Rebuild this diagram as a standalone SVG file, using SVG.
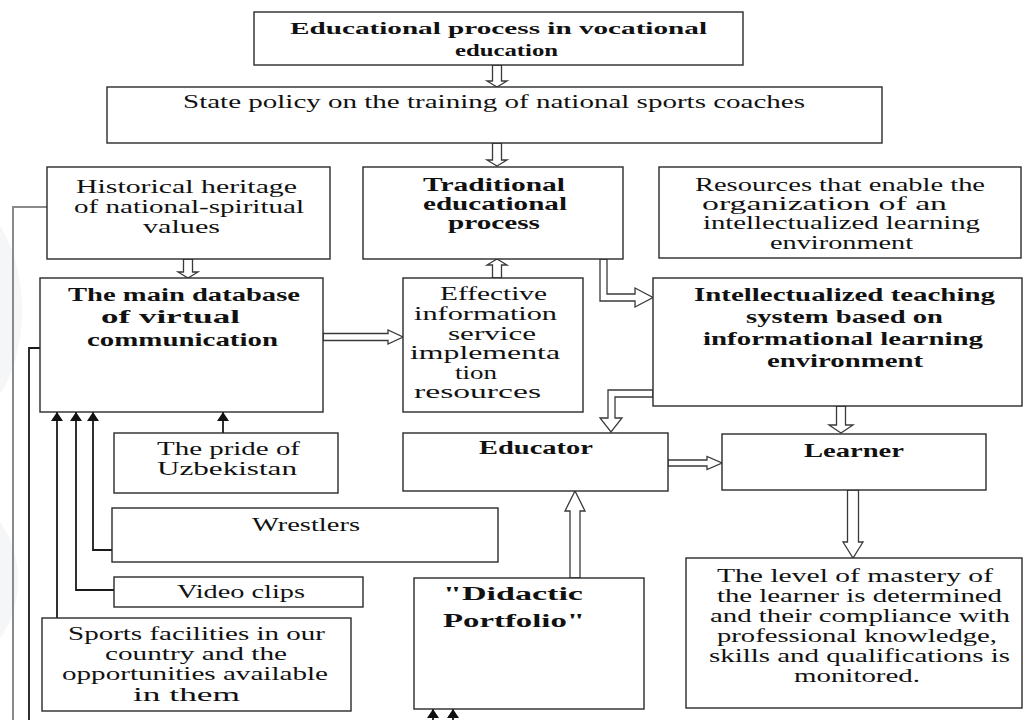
<svg xmlns="http://www.w3.org/2000/svg" width="1029" height="720" viewBox="0 0 1029 720">
<style>
.box{fill:#fff;stroke:#2a2a2a;stroke-width:1.4}
.t{font-family:"Liberation Serif","Times New Roman",serif;font-size:19px;fill:#111}
.s{font-size:18px}
.b{font-weight:bold;font-size:18px}
.ha{fill:#fff;stroke:#3a3a3a;stroke-width:1.3;stroke-linejoin:miter}
.ln{fill:none;stroke:#1a1a1a;stroke-width:1.8}
.lg{fill:none;stroke:#8a8a8a;stroke-width:2}
</style>
<defs>
<marker id="ah" viewBox="0 0 10 10" refX="10" refY="5" markerWidth="9" markerHeight="12" markerUnits="userSpaceOnUse" orient="auto" preserveAspectRatio="none">
<path d="M0,0 L10,5 L0,10 Z" fill="#111"/>
</marker>
</defs>
<rect width="1029" height="720" fill="#fff"/>
<ellipse cx="-40" cy="310" rx="62" ry="110" fill="#f5f6f8"/>
<ellipse cx="-40" cy="580" rx="58" ry="80" fill="#f5f6f8"/>

<g id="connectors">
<path class="lg" d="M47,207 H13 V720"/>
<path class="ln" d="M40,348 H29 V720"/>
<path class="ln" d="M223,433 V412" marker-end="url(#ah)"/>
<path class="ln" d="M112,550 H93 V412" marker-end="url(#ah)"/>
<path class="ln" d="M114,590 H76 V412" marker-end="url(#ah)"/>
<path class="ln" d="M57,618 V412" marker-end="url(#ah)"/>
<path class="ln" d="M433,728 V709" marker-end="url(#ah)"/>
<path class="ln" d="M453,728 V709" marker-end="url(#ah)"/>
<path class="ha" d="M492.5,65 V81 H487 L497,87 L507,81 H501.5 V65 Z"/>
<path class="ha" d="M492.5,143 V160 H487 L497,166 L507,160 H501.5 V143 Z"/>
<path class="ha" d="M183.5,259 V272 H178 L188,278 L198,272 H192.5 V259 Z"/>
<path class="ha" d="M492.5,278 V265 H487 L497,259 L507,265 H501.5 V278 Z"/>
<path class="ha" d="M323,333.5 H388 V330 L403,337 L388,344 V340.5 H323 Z"/>
<path class="ha" d="M600,259 V301 H635 V307 L653,297.5 L635,288 V294 H607 V259 Z"/>
<path class="ha" d="M653,390 H608 V418 H600 L611,432 L622,418 H615 V397 H653 Z"/>
<path class="ha" d="M836.5,406 V425 H829 L841,433 L853,425 H845.5 V406 Z"/>
<path class="ha" d="M847.5,490 V542 H843 L853,558 L863,542 H858.5 V490 Z"/>
<path class="ha" d="M570,578 V511 H565 L575,491 L585,511 H580 V578 Z"/>
<path class="ha" d="M668,460 H707 V456.5 L722,463 L707,469.5 V466 H668 Z"/>
</g>

<g id="n-title">
<rect class="box" x="254" y="12" width="489" height="53"/>
<text class="t b" style="font-size:17px" x="290" y="34" textLength="417" lengthAdjust="spacingAndGlyphs">Educational process in vocational</text>
<text class="t b" style="font-size:17px" x="455" y="56" textLength="103" lengthAdjust="spacingAndGlyphs">education</text>
</g>

<g id="n-state">
<rect class="box" x="107" y="87" width="775" height="56"/>
<text class="t" x="183" y="108" textLength="622" lengthAdjust="spacingAndGlyphs">State policy on the training of national sports coaches</text>
</g>

<g id="n-historical">
<rect class="box" x="47" y="167" width="283" height="92"/>
<text class="t" x="76" y="193" textLength="221" lengthAdjust="spacingAndGlyphs">Historical heritage</text>
<text class="t" x="74" y="213" textLength="230" lengthAdjust="spacingAndGlyphs">of national-spiritual</text>
<text class="t" x="143" y="233" textLength="77" lengthAdjust="spacingAndGlyphs">values</text>
</g>

<g id="n-traditional">
<rect class="box" x="363" y="167" width="260" height="92"/>
<text class="t b" x="423" y="191" textLength="142" lengthAdjust="spacingAndGlyphs">Traditional</text>
<text class="t b" x="423" y="210" textLength="144" lengthAdjust="spacingAndGlyphs">educational</text>
<text class="t b" x="448" y="229" textLength="92" lengthAdjust="spacingAndGlyphs">process</text>
</g>

<g id="n-resources">
<rect class="box" x="659" y="167" width="362" height="91"/>
<text class="t s" x="695" y="191" textLength="290" lengthAdjust="spacingAndGlyphs">Resources that enable the</text>
<text class="t s" x="702" y="210" textLength="245" lengthAdjust="spacingAndGlyphs">organization of an</text>
<text class="t s" x="703" y="229" textLength="277" lengthAdjust="spacingAndGlyphs">intellectualized learning</text>
<text class="t s" x="770" y="249" textLength="143" lengthAdjust="spacingAndGlyphs">environment</text>
</g>

<g id="n-database">
<rect class="box" x="40" y="278" width="283" height="134"/>
<text class="t b" x="68" y="301" textLength="232" lengthAdjust="spacingAndGlyphs">The main database</text>
<text class="t b" x="101" y="323" textLength="139" lengthAdjust="spacingAndGlyphs">of virtual</text>
<text class="t b" x="87" y="346" textLength="191" lengthAdjust="spacingAndGlyphs">communication</text>
</g>

<g id="n-effective">
<rect class="box" x="403" y="278" width="180" height="134"/>
<text class="t s" x="440" y="300" textLength="107" lengthAdjust="spacingAndGlyphs">Effective</text>
<text class="t s" x="414" y="320" textLength="143" lengthAdjust="spacingAndGlyphs">information</text>
<text class="t s" x="448" y="340" textLength="88" lengthAdjust="spacingAndGlyphs">service</text>
<text class="t s" x="410" y="359" textLength="150" lengthAdjust="spacingAndGlyphs">implementa</text>
<text class="t s" x="455" y="379" textLength="42" lengthAdjust="spacingAndGlyphs">tion</text>
<text class="t s" x="414" y="398" textLength="127" lengthAdjust="spacingAndGlyphs">resources</text>
</g>

<g id="n-intellectualized">
<rect class="box" x="653" y="278" width="369" height="128"/>
<text class="t b" x="694" y="301" textLength="301" lengthAdjust="spacingAndGlyphs">Intellectualized teaching</text>
<text class="t b" x="746" y="323" textLength="197" lengthAdjust="spacingAndGlyphs">system based on</text>
<text class="t b" x="703" y="345" textLength="280" lengthAdjust="spacingAndGlyphs">informational learning</text>
<text class="t b" x="767" y="367" textLength="156" lengthAdjust="spacingAndGlyphs">environment</text>
</g>

<g id="n-educator">
<rect class="box" x="403" y="433" width="265" height="58"/>
<text class="t b" x="479" y="454" textLength="114" lengthAdjust="spacingAndGlyphs">Educator</text>
</g>

<g id="n-learner">
<rect class="box" x="722" y="434" width="264" height="56"/>
<text class="t b" x="804" y="457" textLength="100" lengthAdjust="spacingAndGlyphs">Learner</text>
</g>

<g id="n-pride">
<rect class="box" x="114" y="433" width="224" height="60"/>
<text class="t" x="157" y="455" textLength="143" lengthAdjust="spacingAndGlyphs">The pride of</text>
<text class="t" x="157" y="475" textLength="140" lengthAdjust="spacingAndGlyphs">Uzbekistan</text>
</g>

<g id="n-wrestlers">
<rect class="box" x="112" y="508" width="386" height="54"/>
<text class="t" x="252" y="531" textLength="108" lengthAdjust="spacingAndGlyphs">Wrestlers</text>
</g>

<g id="n-video">
<rect class="box" x="114" y="577" width="249" height="30"/>
<text class="t" x="177" y="598" textLength="128" lengthAdjust="spacingAndGlyphs">Video clips</text>
</g>

<g id="n-sports">
<rect class="box" x="42" y="618" width="309" height="93"/>
<text class="t s" x="68" y="640" textLength="257" lengthAdjust="spacingAndGlyphs">Sports facilities in our</text>
<text class="t s" x="105" y="660" textLength="182" lengthAdjust="spacingAndGlyphs">country and the</text>
<text class="t s" x="62" y="680" textLength="266" lengthAdjust="spacingAndGlyphs">opportunities available</text>
<text class="t s" x="133" y="701" textLength="107" lengthAdjust="spacingAndGlyphs">in them</text>
</g>

<g id="n-didactic">
<rect class="box" x="414" y="578" width="230" height="131"/>
<text class="t b" x="443" y="600" textLength="140" lengthAdjust="spacingAndGlyphs">"Didactic</text>
<text class="t b" x="443" y="627" textLength="142" lengthAdjust="spacingAndGlyphs">Portfolio"</text>
</g>

<g id="n-mastery">
<rect class="box" x="686" y="558" width="336" height="150"/>
<text class="t" x="717" y="582" textLength="276" lengthAdjust="spacingAndGlyphs">The level of mastery of</text>
<text class="t" x="717" y="602" textLength="285" lengthAdjust="spacingAndGlyphs">the learner is determined</text>
<text class="t" x="710" y="622" textLength="300" lengthAdjust="spacingAndGlyphs">and their compliance with</text>
<text class="t" x="717" y="642" textLength="280" lengthAdjust="spacingAndGlyphs">professional knowledge,</text>
<text class="t" x="709" y="662" textLength="301" lengthAdjust="spacingAndGlyphs">skills and qualifications is</text>
<text class="t" x="794" y="682" textLength="126" lengthAdjust="spacingAndGlyphs">monitored.</text>
</g>
</svg>
